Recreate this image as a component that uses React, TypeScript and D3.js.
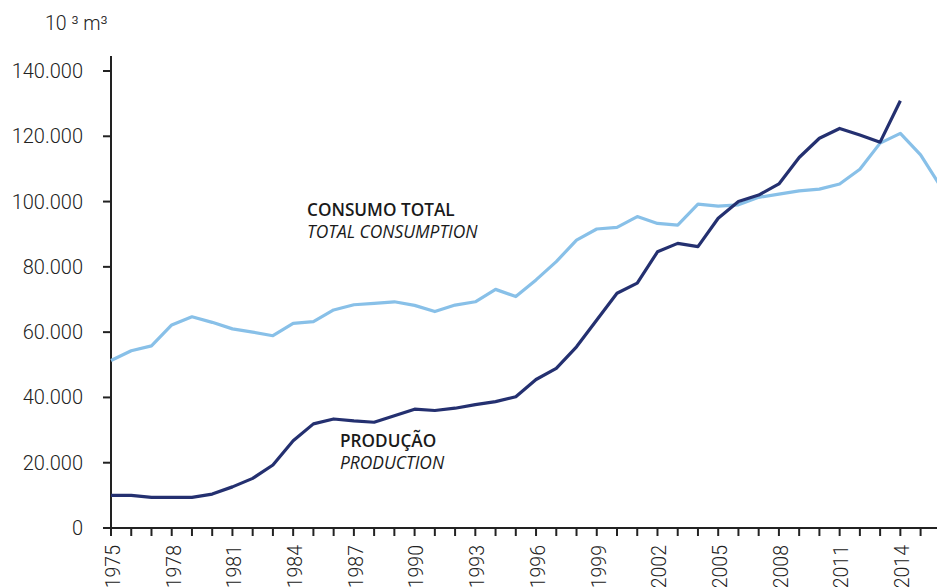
import React from "react";
import * as d3 from "d3";

const years: number[] = d3.range(1975, 2017);
const production: (number | null)[] = [
  10000, 10000, 9400, 9400, 9400, 10400, 12600, 15200, 19300, 26700,
  31900, 33400, 32800, 32400, 34400, 36400, 36000, 36700, 37800, 38700,
  40200, 45500, 48900, 55500, 63700, 71900, 75000, 84600, 87200, 86200,
  94900, 100000, 102000, 105400, 113500, 119400, 122400, 120400, 118200, 130900,
  null, null,
];
const consumption: number[] = [
  51300, 54300, 55800, 62200, 64700, 63000, 61000, 60000, 58900, 62700,
  63200, 66800, 68400, 68800, 69300, 68200, 66300, 68300, 69300, 73100,
  70900, 76000, 81600, 88200, 91600, 92100, 95400, 93300, 92800, 99200,
  98600, 99000, 101300, 102300, 103300, 103800, 105400, 109900, 117900, 120900,
  114300, 104500,
];
const yTicks: number[] = [0, 20000, 40000, 60000, 80000, 100000, 120000, 140000];
const xLabelYears: number[] = d3.range(1975, 2015, 3);
const xTickYears: number[] = d3.range(1975, 2016);

const W = 937;
const H = 587;

export default function App() {
  const x = d3.scaleLinear().domain([1975, 2016]).range([111, 111 + 41 * 20.24]);
  const y = d3.scaleLinear().domain([0, 140000]).range([528, 71]);

  const lineGen = d3
    .line<[number, number | null]>()
    .defined((d) => d[1] != null)
    .x((d) => x(d[0]))
    .y((d) => y(d[1] as number));

  const prodPath = lineGen(years.map((yr, i) => [yr, production[i]]));
  const consPath = lineGen(years.map((yr, i) => [yr, consumption[i]]));

  const fmt = (v: number) => (v === 0 ? "0" : d3.format(",")(v).replace(/,/g, "."));
  const axisColor = "#222";
  const axisFont = "Roboto, 'Liberation Sans', sans-serif";
  const labelFont = "'Open Sans', 'Noto Sans', sans-serif";

  return (
    <svg
      width={W}
      height={H}
      style={{ position: "absolute", left: 0, top: 0, background: "#fff", overflow: "hidden" }}
    >
      <text x={45} y={30} fontFamily={axisFont} fontWeight={300} fontSize={19.5} fill="#222">
        10 ³ m³
      </text>

      {/* y axis */}
      <line x1={111} x2={111} y1={56} y2={529} stroke={axisColor} strokeWidth={2} />
      {yTicks.map((t) => (
        <g key={t}>
          <line x1={103} x2={111} y1={y(t)} y2={y(t)} stroke={axisColor} strokeWidth={2} />
          <text
            x={83}
            y={y(t)}
            dy="0.35em"
            textAnchor="end"
            fontFamily={axisFont}
            fontWeight={300}
            fontSize={20}
            fill="#222"
          >
            {fmt(t)}
          </text>
        </g>
      ))}

      {/* x axis */}
      <line x1={103} x2={W} y1={528} y2={528} stroke={axisColor} strokeWidth={2} />
      {xTickYears.map((yr) => (
        <line key={yr} x1={x(yr)} x2={x(yr)} y1={528} y2={536} stroke={axisColor} strokeWidth={2} />
      ))}
      {xLabelYears.map((yr) => (
        <text
          key={yr}
          transform={`translate(${x(yr) + 2},545) rotate(-90)`}
          dy="0.35em"
          textAnchor="end"
          fontFamily={axisFont}
          fontWeight={300}
          fontSize={19.5}
          fill="#222"
        >
          {yr}
        </text>
      ))}

      {/* lines */}
      <path d={consPath || ""} fill="none" stroke="#88c0e8" strokeWidth={3.2} strokeLinejoin="round" />
      <path d={prodPath || ""} fill="none" stroke="#243070" strokeWidth={3.2} strokeLinejoin="round" />

      {/* annotations */}
      <text fontFamily={labelFont} fontSize={17.2} fill="#1a1a1a">
        <tspan x={307} y={216} fontWeight={600}>CONSUMO TOTAL</tspan>
        <tspan x={307} y={238.3} fontStyle="italic" fontWeight={400} fontSize={17.4}>TOTAL CONSUMPTION</tspan>
      </text>
      <text fontFamily={labelFont} fontSize={17.2} fill="#1a1a1a">
        <tspan x={340} y={447} fontWeight={600}>PRODUÇÃO</tspan>
        <tspan x={340} y={469} fontStyle="italic" fontWeight={400} fontSize={17.4}>PRODUCTION</tspan>
      </text>
    </svg>
  );
}
